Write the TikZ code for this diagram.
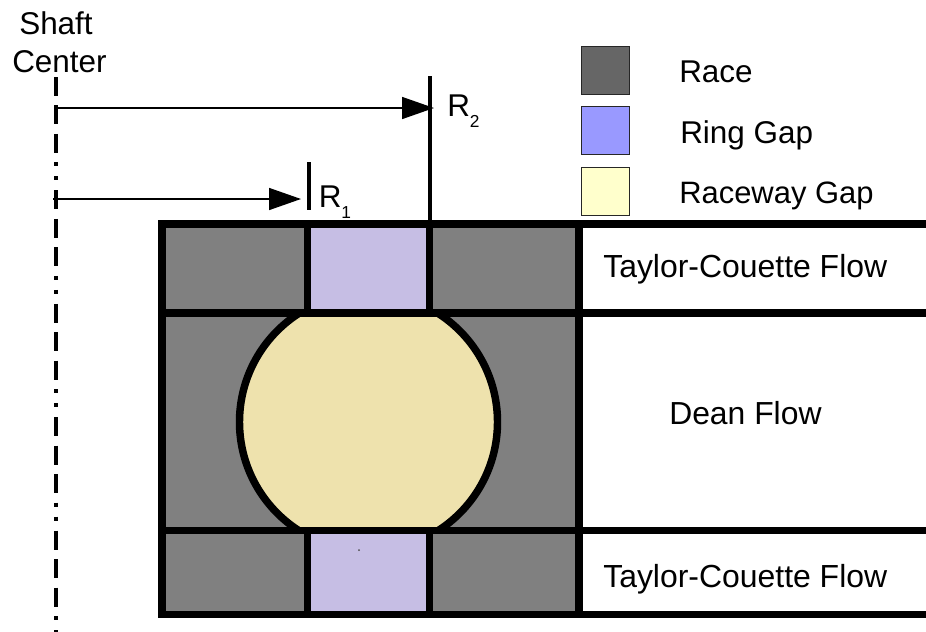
\documentclass[tikz,border=0pt]{standalone}
\usepackage{fontspec}
\setmainfont{Liberation Sans}
\usetikzlibrary{arrows.meta}
\definecolor{racegray}{HTML}{808080}
\definecolor{ringfill}{HTML}{C6BEE4}
\definecolor{gapfill}{HTML}{EEE2AD}
\definecolor{legrace}{HTML}{666666}
\definecolor{legring}{HTML}{9999FF}
\definecolor{leggap}{HTML}{FFFFCC}
\tikzset{
  x=0.75pt, y=-0.75pt,
  label text/.style={anchor=base west, inner sep=0pt, font=\fontsize{23.6}{28}\selectfont},
  heavy/.style={line width=5.8pt, line cap=butt, black},
  tick/.style={line width=3pt, black},
  dim arrow/.style={line width=1.2pt, black, -{Triangle[length=24pt,width=16.5pt]}, shorten >=0pt},
  swatch/.style={draw=black!85, line width=0.6pt, minimum width=36pt, minimum height=35.8pt, inner sep=0pt, anchor=north west},
  shaft/.style={line width=2.8pt, black, dash pattern=on 14.25pt off 7.1pt on 14.25pt off 7.1pt on 14.25pt off 7.1pt on 3pt off 7.5pt on 3pt off 7.5pt}
}
\newcommand{\subs}[1]{\raisebox{-8.5pt}{\fontsize{13}{13}\selectfont #1}}
\begin{document}
\begin{tikzpicture}
\useasboundingbox (0,0) rectangle (926,632);
\fill[white] (0,0) rectangle (926,632);
% fills
\fill[racegray] (162,224) rectangle (579,614.5);
\fill[ringfill] (307.5,224) rectangle (429.5,313);
\fill[ringfill] (307.5,530.5) rectangle (429.5,614.5);
% raceway gap
\begin{scope}
  \clip (162,313) rectangle (579,530.5);
  \draw[fill=gapfill, line width=5.6pt] (368.5,422) circle[radius=129];
\end{scope}
% frame
\draw[heavy] (158.2,224) -- (926,224);
\draw[heavy] (162,313) -- (926,313);
\draw[heavy] (162,530.5) -- (926,530.5);
\draw[heavy] (158.2,614.5) -- (926,614.5);
\draw[heavy] (162,224) -- (162,618.2);
\draw[heavy] (307.5,224) -- (307.5,313);
\draw[heavy] (429.5,224) -- (429.5,313);
\draw[heavy] (307.5,530.5) -- (307.5,614.5);
\draw[heavy] (429.5,530.5) -- (429.5,614.5);
\draw[heavy] (579,224) -- (579,614.5);
\fill[black!70] (359,550) circle[radius=1];
% shaft line
\draw[shaft] (56,77) -- (56,632);
% ticks
\coordinate (r2top) at (429.5,76);
\coordinate (r2bot) at (429.5,222);
\coordinate (r1top) at (308.5,162);
\coordinate (r1bot) at (308.5,210);
\draw[tick] (r2top) -- (r2bot);
\draw[tick] (r1top) -- (r1bot);
% dimension arrows
\coordinate (a2s) at (54,108);
\coordinate (a2e) at (434,108);
\coordinate (a1s) at (53,199);
\coordinate (a1e) at (301,199);
\draw[dim arrow] (a2s) -- (a2e);
\draw[dim arrow] (a1s) -- (a1e);
% legend
\node[swatch, fill=legrace] (legA) at (581,46) {};
\node[swatch, fill=legring] (legB) at (581,106) {};
\node[swatch, fill=leggap] (legC) at (581,167) {};
% texts
\node[label text] (shaft1) at (19,34) {Shaft};
\node[label text] (shaft2) at (12,72) {Center};
\node[label text] (r2) at (447,116) {R\subs{2}};
\node[label text] (r1) at (318.5,207) {R\subs{1}};
\node[label text] (t1) at (679,82) {Race};
\node[label text] (t2) at (680,143) {Ring Gap};
\node[label text, font=\fontsize{23.2}{28}\selectfont] (t3) at (679,203) {Raceway Gap};
\node[label text, font=\fontsize{23.95}{28}\selectfont] (f1) at (603,277) {Taylor-Couette Flow};
\node[label text, font=\fontsize{23.9}{28}\selectfont] (f2) at (669,424) {Dean Flow};
\node[label text, font=\fontsize{23.95}{28}\selectfont] (f3) at (603,587) {Taylor-Couette Flow};
\end{tikzpicture}
\end{document}
